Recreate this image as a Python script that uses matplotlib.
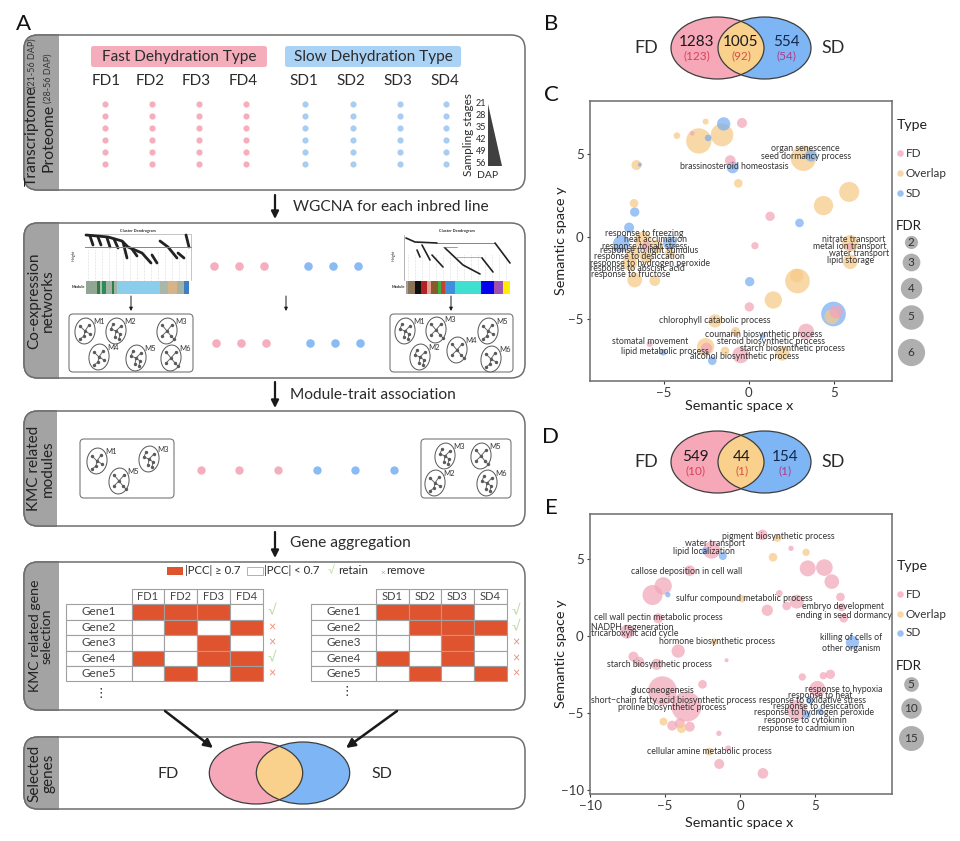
import matplotlib
matplotlib.use('Agg')
import matplotlib.pyplot as plt
import numpy as np
import pandas as pd
from matplotlib.patches import Ellipse, FancyBboxPatch, Rectangle, Polygon

plt.rcParams['font.family'] = ['Lato', 'DejaVu Sans']

# colours
PINK = '#F4AEBD'
BLUE = '#8ABBF2'
ORANGE = '#F9D08C'
GREY_TAB = '#A3A3A3'
RED_CELL = '#E0532F'
TXT = '#2b2b2b'

# ############# panel C data: x, y, FDR ##############
c_fd_x = [-0.39, -3.32, -1.08, 1.26, 0.37, 0.04, 3.38, 5.15, -2.48, -0.47, -5.82, -6.01, 5.97]
c_fd_y = [6.89, 6.26, 4.61, 1.23, -0.55, -4.26, -5.76, -4.55, -6.77, -7.17, -6.51, -0.61, -0.61]
c_fd_v = [1.48, 0.93, 1.58, 1.39, 1.15, 1.39, 2.58, 2.03, 1.68, 2.73, 1.03, 1.48, 1.23]

c_ov_x = [-2.53, -4.22, -2.93, -1.57, -6.60, 3.22, -0.61, 5.91, 4.40, -6.74, 5.97, 5.97, 2.87, 2.83, 1.45,
          -1.98, -0.77, -2.53, -1.39, 1.98, 4.89, -6.70, -5.52, -6.21, -5.42, -6.99, -6.80, -6.01, -4.64]
c_ov_y = [6.97, 6.12, 5.80, 6.16, 4.34, 4.75, 3.23, 2.71, 1.88, 2.02, -0.40, -1.52, -2.69, -2.36, -3.84,
          -5.11, -5.76, -6.67, -6.93, -7.07, -4.85, -2.63, -2.67, -0.20, -0.61, -1.62, -1.01, -1.21, -1.01]
c_ov_v = [1.03, 1.09, 5.3, 4.4, 1.48, 5.3, 1.3, 3.6, 3.4, 1.3, 2.73, 2.3, 5.06, 2.03, 2.89,
          2.03, 1.39, 2.89, 1.3, 2.3, 2.3, 2.3, 1.58, 2.73, 2.03, 2.3, 2.3, 2.03, 1.48]

c_sd_x = [-1.47, -2.38, -6.40, -0.94, 3.67, -6.70, -7.03, 2.99, -7.49, -4.64, 0.06, 4.99, 0.83, -5.03, -2.14]
c_sd_y = [6.83, 5.98, 4.36, 4.20, 4.91, 1.49, 0.55, 0.83, -0.44, -0.40, -2.73, -4.69, -6.02, -7.01, -7.52]
c_sd_v = [2.03, 1.09, 0.89, 1.79, 1.79, 1.39, 1.48, 1.3, 2.73, 2.03, 1.39, 5.06, 1.03, 1.09, 1.3]

c_labels = ['organ senescence', 'seed dormancy process', 'brassinosteroid homeostasis', 'response to freezing',
            'heat acclimation', 'response to salt stress', 'response to light stimulus', 'response to desiccation',
            'response to hydrogen peroxide', 'response to abscisic acid', 'response to fructose', 'nitrate transport',
            'metal ion transport', 'water transport', 'lipid storage', 'chlorophyll catabolic process',
            'coumarin biosynthetic process', 'steroid biosynthetic process', 'starch biosynthetic process',
            'alcohol biosynthetic process', 'stomatal movement', 'lipid metabolic process']
c_label_x = [3.36, 3.38, -0.83, -6.13, -5.48, -6.11, -5.85, -6.40, -5.80, -6.54, -6.94, 6.17, 5.93, 6.52, 5.99,
             -2.02, 0.88, 1.32, 2.55, -0.24, -5.80, -4.93]
c_label_y = [5.35, 4.85, 4.26, 0.18, -0.18, -0.59, -0.87, -1.19, -1.60, -1.94, -2.32, -0.20, -0.61, -1.01, -1.47,
             -5.11, -5.96, -6.38, -6.77, -7.25, -6.38, -6.97]

# ############# panel E data ##############
e_fd_x = [1.47, 3.38, -1.91, -3.36, 4.49, 5.60, 6.09, 2.60, 6.67, -5.13, -5.84, 3.76, 3.09, 1.80, 6.76, -5.47, 6.89,
          -7.53, -4.13, -7.11, -6.73, -5.56, -0.91, 4.13, 5.53, 6.00, -2.51, -5.18, 5.13, -3.58, 3.76, -3.36, -4.53,
          -4.02, -1.42, -0.80, -1.40, 1.51]
e_fd_y = [6.54, 5.67, 5.56, 4.22, 4.37, 4.42, 3.51, 2.75, 2.51, 3.23, 2.64, 2.21, 1.93, 1.65, 1.84, 1.13, 1.13,
          0.26, -1.00, -1.36, -1.69, -1.86, -1.60, -2.68, -2.60, -2.51, -3.16, -3.57, -3.46, -4.61, -4.83, -5.91,
          -5.84, -5.69, -6.34, -7.32, -8.33, -8.94]
e_fd_v = [2.5, 0.43, 7.05, 2.5, 5.97, 6.5, 4.97, 0.81, 1.56, 7.05, 9.48, 4.51, 1.56, 2.86, 1.29, 2.17, 1.56,
          4.51, 4.06, 2.17, 2.17, 2.86, 0.12, 1.04, 1.04, 1.86, 1.56, 19.8, 5.97, 21.7, 9.48, 2.17,
          2.17, 2.17, 0.43, 0.61, 2.17, 2.5]

e_ov_x = [2.47, 4.38, 2.18, 0.11, -1.73, -5.11, -3.91, -2.07]
e_ov_y = [6.32, 5.41, 5.09, 2.40, -0.39, -5.58, -6.02, -7.53]
e_ov_v = [1.04, 1.04, 1.56, 1.04, 0.81, 1.29, 1.86, 1.29]

e_sd_x = [-2.36, -1.16, -4.82, 7.47, 4.42, 5.31, 4.64]
e_sd_y = [5.50, 5.17, 2.66, -0.45, -5.15, -4.94, -4.18]
e_sd_v = [0.81, 1.29, 0.43, 4.06, 1.29, 0.81, 1.29]

e_labels = ['pigment biosynthetic process', 'water transport', 'lipid localization', 'callose deposition in cell wall',
            'sulfur compound metabolic process', 'embryo development', 'ending in seed dormancy',
            'cell wall pectin metabolic process', 'NADPH regeneration', 'tricarboxylic acid cycle',
            'hormone biosynthetic process', 'killing of cells of\nother organism', 'starch biosynthetic process',
            'gluconeogenesis', 'short\u2212chain fatty acid biosynthetic process', 'proline biosynthetic process',
            'response to hypoxia', 'response to heat', 'response to oxidative stress', 'response to desiccation',
            'response to hydrogen peroxide', 'response to cytokinin', 'response to cadmium ion',
            'cellular amine metabolic process']
e_label_x = [2.56, -1.69, -2.40, -3.58, 0.27, 6.87, 6.87, -5.47, -7.18, -7.00, -1.58, 7.40, -5.40, -5.18, -4.44, -4.56,
             6.87, 5.31, 4.82, 5.20, 4.93, 4.31, 4.36, -2.04]
e_label_y = [6.47, 5.97, 5.45, 4.18, 2.42, 1.90, 1.30, 1.17, 0.56, 0.11, -0.35, -0.50, -1.90, -3.53, -4.18, -4.65,
             -3.48, -3.87, -4.22, -4.59, -5.02, -5.52, -6.04, -7.49]

# ############# venn counts ##############
venn_b = ['1283', '1005', '554']
venn_b_sub = ['(123)', '(92)', '(54)']
venn_d = ['549', '44', '154']
venn_d_sub = ['(10)', '(1)', '(1)']

# ############# panel A ##############
fd_lines = ['FD1', 'FD2', 'FD3', 'FD4']
sd_lines = ['SD1', 'SD2', 'SD3', 'SD4']
genes = ['Gene1', 'Gene2', 'Gene3', 'Gene4', 'Gene5']
fd_matrix = [[1, 1, 1, 0], [0, 1, 0, 1], [0, 0, 1, 0], [1, 0, 1, 1], [0, 1, 0, 1]]
sd_matrix = [[1, 1, 1, 0], [0, 1, 1, 1], [0, 0, 1, 0], [1, 0, 1, 0], [0, 1, 0, 1]]
fd_keep = [1, 0, 0, 1, 0]
sd_keep = [1, 1, 0, 0, 0]
stages = [21, 28, 35, 42, 49, 56]

left_bar_w = [11, 3, 2, 4, 6, 2, 3, 43, 8, 9, 7, 5]
left_bar_c = ['#93A593', '#2E7D46', '#A9BFA9', '#2E8B57', '#A3B3A3', '#2E7D46', '#A3B3A3', '#8CCDEB', '#A9B7A9',
              '#D5B48C', '#A3B3A3', '#3F7FBF']
right_bar_w = [2, 7, 6, 6, 4, 7, 3, 4, 10, 26, 13, 9, 7]
right_bar_c = ['#A0A0A0', '#8B7355', '#101010', '#B22222', '#E0A090', '#8B5A2B', '#3CB043', '#C8402F', '#3F8FDF',
               '#40E0D0', '#0000EE', '#A050B0', '#FFEE00']

fig = plt.figure(figsize=(9.6, 8.41), dpi=100)
bg = fig.add_axes([0, 0, 1, 1])
bg.set_xlim(0, 960)
bg.set_ylim(841, 0)
bg.axis('off')


def px_axes(x0, y0, x1, y1):
    return fig.add_axes([x0 / 960, 1 - y1 / 841, (x1 - x0) / 960, (y1 - y0) / 841])


def row_box(y0, y1, title, tab_x=59, size=11):
    box = FancyBboxPatch((24, y0), 501, y1 - y0, boxstyle='round,pad=0,rounding_size=14', fc='white', ec='#6e6e6e',
                         lw=1.1, zorder=1)
    bg.add_patch(box)
    tab = FancyBboxPatch((24, y0), 501, y1 - y0, boxstyle='round,pad=0,rounding_size=14', fc=GREY_TAB, ec='#6e6e6e',
                         lw=1.1, zorder=1.5)
    bg.add_patch(tab)
    tab.set_clip_path(Rectangle((0, 0), tab_x, 841, transform=bg.transData))
    if title:
        bg.text(41, (y0 + y1) / 2, title, rotation=90, ha='center', va='center', ma='center', fontsize=size,
                color='#222222', linespacing=1.0, zorder=3)


def dots(xs, ys, color, size):
    for y in ys:
        bg.scatter(xs, [y] * len(xs), s=size, color=color, lw=0, zorder=3)


def down_arrow(x, y0, y1, lw=1.6, ms=11):
    bg.annotate('', xy=(x, y1), xytext=(x, y0), zorder=4,
                arrowprops=dict(arrowstyle='-|>', color='#1a1a1a', lw=lw, mutation_scale=ms, shrinkA=0, shrinkB=0))


# small network glyph inside an ellipse: node offsets and which node each one hangs from
node_sets = [
    ([(0, 0), (-5, -5), (4, -6), (-1, 5), (-5, 8), (5, 3)], [0, 0, 0, 0, 3, 0]),
    ([(0, 0), (-5, -2), (-3, -7), (5, -5), (4, 3), (-1, 6), (3, 8)], [0, 0, 1, 0, 0, 0, 4]),
    ([(0, 0), (-5, -6), (5, -6), (-5, 5), (4, 5), (7, 8)], [0, 0, 0, 0, 0, 4]),
]


def module(x, y, name, kind=0):
    bg.add_patch(Ellipse((x, y), 20, 26, angle=8, fc='white', ec='#555555', lw=0.7, zorder=3))
    nodes, parents = node_sets[kind % 3]
    for (nx, ny), p in zip(nodes, parents):
        px, py = nodes[p]
        bg.plot([x + px, x + nx], [y + py, y + ny], color='#666666', lw=0.7, zorder=3.1)
    bg.scatter([x + n[0] for n in nodes], [y + n[1] for n in nodes], s=6, color='#5a5a5a', lw=0, zorder=3.2)
    bg.text(x + 14, y - 10, name, fontsize=5.5, color='#333333', ha='center', va='center', zorder=3.3)


def module_box(x0, y0, x1, y1):
    bg.add_patch(FancyBboxPatch((x0, y0), x1 - x0, y1 - y0, boxstyle='round,pad=0,rounding_size=4', fc='white',
                                ec='#777777', lw=0.8, zorder=2))


def venn(cx0, cx1, cy, rx, ry, ax=bg, z=3, lw=0.9):
    left = Ellipse((cx0, cy), 2 * rx, 2 * ry, fc='#F7A8B8', ec='none', zorder=z)
    right = Ellipse((cx1, cy), 2 * rx, 2 * ry, fc='#7DB5F5', ec='none', zorder=z)
    ax.add_patch(left)
    ax.add_patch(right)
    mid = Ellipse((cx0, cy), 2 * rx, 2 * ry, fc=ORANGE, ec='none', zorder=z + .1)
    ax.add_patch(mid)
    mid.set_clip_path(Ellipse((cx1, cy), 2 * rx, 2 * ry, transform=ax.transData))
    for cx in (cx0, cx1):
        outline = Ellipse((cx, cy), 2 * rx, 2 * ry, fc='none', ec='#3d3d3d', lw=lw, zorder=z + .2)
        ax.add_patch(outline)


def gene_table(x_label, x_cols, names, matrix, keep, mark_x):
    y_rows = [604, 619.5, 635, 650.5, 665.5, 681]
    for i, name in enumerate(names):
        bg.add_patch(Rectangle((x_cols[i], 589), x_cols[i + 1] - x_cols[i], 15, fc='white', ec='#a0a0a0', lw=0.8,
                               zorder=2))
        bg.text((x_cols[i] + x_cols[i + 1]) / 2, 596.5, name, fontsize=8, color='#444444', ha='center', va='center',
                zorder=3)
    for r, g in enumerate(genes):
        y0, y1 = y_rows[r], y_rows[r + 1]
        bg.add_patch(Rectangle((x_label, y0), x_cols[0] - x_label, y1 - y0, fc='white', ec='#a0a0a0', lw=0.8, zorder=2))
        bg.text((x_label + x_cols[0]) / 2, (y0 + y1) / 2, g, fontsize=8.5, color='#444444', ha='center', va='center',
                zorder=3)
        for c in range(4):
            bg.add_patch(Rectangle((x_cols[c], y0), x_cols[c + 1] - x_cols[c], y1 - y0,
                                   fc=RED_CELL if matrix[r][c] else 'white', ec='#a0a0a0', lw=0.8, zorder=2))
        if keep[r]:
            bg.text(mark_x, (y0 + y1) / 2 - 1, '\u221a', fontsize=10, color='#BFDDA8', ha='center', va='center', zorder=3)
        else:
            bg.text(mark_x, (y0 + y1) / 2, '\u00d7', fontsize=9, color='#E9907A', ha='center', va='center', zorder=3)


# ################### panel A ###################
bg.text(23, 24, 'A', fontsize=16, color='#111111', ha='center', va='center')

# row 1: sampling
row_box(35, 190, None)
bg.text(32, 136, 'Transcriptome', rotation=90, fontsize=11.3, ha='center', va='center', color='#222222', zorder=3)
bg.text(32, 63, '(21-56 DAP)', rotation=90, fontsize=6.5, ha='center', va='center', color='#333333', zorder=3)
bg.text(48, 138, 'Proteome', rotation=90, fontsize=11.3, ha='center', va='center', color='#222222', zorder=3)
bg.text(48, 78, '(28-56 DAP)', rotation=90, fontsize=6.5, ha='center', va='center', color='#333333', zorder=3)
bg.add_patch(FancyBboxPatch((91, 46), 176, 21, boxstyle='round,pad=0,rounding_size=2.5', fc='#F4AEBB', ec='none', zorder=2))
bg.add_patch(FancyBboxPatch((285, 46), 176, 21, boxstyle='round,pad=0,rounding_size=2.5', fc='#A9D2F5', ec='none', zorder=2))
bg.text(179, 56.5, 'Fast Dehydration Type', fontsize=11.1, color=TXT, ha='center', va='center', zorder=3)
bg.text(373, 56.5, 'Slow Dehydration Type', fontsize=11.1, color=TXT, ha='center', va='center', zorder=3)
for xt, name in zip([106, 150, 196, 243], fd_lines):
    bg.text(xt, 81, name, fontsize=11, color=TXT, ha='center', va='center', zorder=3)
for xt, name in zip([304, 351, 398, 445], sd_lines):
    bg.text(xt, 81, name, fontsize=11, color=TXT, ha='center', va='center', zorder=3)
stage_y = [104, 116, 128, 140, 152, 164]
dots([105, 152, 199, 246], stage_y, PINK, 20)
dots([305, 353, 400, 446], stage_y, '#A9CDEF', 20)
bg.text(468, 135, 'Sampling stages', rotation=90, fontsize=8.5, color=TXT, ha='center', va='center', zorder=3)
for yt, st in zip(stage_y, stages):
    bg.text(481, yt - 1, str(st), fontsize=6.5, color=TXT, ha='center', va='center', zorder=3)
bg.add_patch(Polygon([(488, 104), (488, 166), (502, 166)], fc='#404040', ec='none', zorder=3))
bg.text(488, 175, 'DAP', fontsize=7.5, color=TXT, ha='center', va='center', zorder=3)

down_arrow(275, 195, 219)
bg.text(293, 207, 'WGCNA for each inbred line', fontsize=11.2, color=TXT, va='center')

# row 2: co-expression networks
row_box(223, 378, 'Co-expression\nnetworks')
x = 86
for w, c in zip(left_bar_w, left_bar_c):
    bg.add_patch(Rectangle((x, 281), w, 13, fc=c, ec='none', zorder=2))
    x += w
x = 406
for w, c in zip(right_bar_w, right_bar_c):
    bg.add_patch(Rectangle((x, 281), w, 13, fc=c, ec='none', zorder=2))
    x += w
for xv in range(88, 190, 7):
    bg.plot([xv, xv], [250, 280], color='#bdbdbd', lw=0.4, ls=':', zorder=2)
for xv in range(408, 510, 7):
    bg.plot([xv, xv], [255, 280], color='#bdbdbd', lw=0.4, ls=':', zorder=2)
left_traces = [[(86, 235), (108, 237), (122, 241), (128, 247), (142, 253), (151, 263)],
               [(152, 255), (157, 263)], [(160, 241), (168, 247), (177, 258)], [(178, 253), (184, 258)],
               [(186, 235), (189, 247)], [(90, 236), (93, 245)], [(98, 237), (101, 245)], [(107, 238), (110, 247)],
               [(123, 242), (127, 258)], [(132, 249), (137, 256)], [(114, 239), (118, 248)]]
right_traces = [[(406, 238), (415, 242), (437, 243)], [(445, 248), (463, 265), (480, 274)],
                [(482, 258), (493, 272)], [(495, 243), (510, 263)], [(417, 250), (420, 257)],
                [(422, 245), (430, 260)], [(432, 255), (443, 267)]]
for tr in left_traces:
    arr = np.array(tr)
    bg.plot(arr[:, 0], arr[:, 1], color='#222222', lw=2.0, solid_capstyle='round', zorder=2.2)
for tr in right_traces:
    arr = np.array(tr)
    bg.plot(arr[:, 0], arr[:, 1], color='#222222', lw=1.2, solid_capstyle='round', zorder=2.2)
bg.plot([85, 191], [247, 247], color='#E06060', lw=0.7, zorder=2.3)
bg.plot([86, 191, 191], [234, 234, 280], color='#999999', lw=0.4, zorder=2)
bg.plot([404, 404], [235, 280], color='#777777', lw=0.4, zorder=2)
bg.plot([437, 495], [243, 243], color='#555555', lw=0.5, zorder=2)
bg.plot([443, 457], [247, 247], color='#555555', lw=0.4, zorder=2)
bg.plot([457, 482], [257, 257], color='#777777', lw=0.4, zorder=2)
bg.text(138, 231, 'Cluster Dendrogram', fontsize=2.8, color=TXT, ha='center', va='center', weight='bold', zorder=3)
bg.text(457, 231, 'Cluster Dendrogram', fontsize=2.8, color=TXT, ha='center', va='center', weight='bold', zorder=3)
bg.text(74, 255, 'Height', fontsize=2.8, color=TXT, ha='center', va='center', rotation=90, zorder=3)
bg.text(394, 255, 'Height', fontsize=2.8, color=TXT, ha='center', va='center', rotation=90, zorder=3)
bg.text(78, 287, 'Module', fontsize=2.8, color=TXT, ha='center', va='center', weight='bold', zorder=3)
bg.text(398, 287, 'Module', fontsize=2.8, color=TXT, ha='center', va='center', weight='bold', zorder=3)

dots([214, 239, 264], [266], PINK, 38)
dots([308, 333, 358], [266], BLUE, 38)
dots([216, 241, 266], [343], PINK, 38)
dots([310, 335, 360], [343], BLUE, 38)
for xa in [131, 286, 451]:
    down_arrow(xa, 296, 311, lw=0.7, ms=5)

module_box(69, 314, 193, 372)
module_box(390, 314, 513, 372)
for i, (mx, my, mn) in enumerate([(85, 331, 'M1'), (116, 331, 'M2'), (167, 331, 'M3'), (99, 357, 'M4'),
                                  (136, 358, 'M5'), (171, 358, 'M6')]):
    module(mx, my, mn, i)
for i, (mx, my, mn) in enumerate([(405, 331, 'M1'), (436, 330, 'M3'), (488, 331, 'M5'), (420, 357, 'M2'),
                                  (457, 350, 'M4'), (491, 359, 'M6')]):
    module(mx, my, mn, i + 1)

down_arrow(275, 382, 408)
bg.text(290, 395, 'Module-trait association', fontsize=11.2, color=TXT, va='center')

# row 3: KMC related modules
row_box(411, 526, 'KMC related\nmodules', tab_x=57)
module_box(80, 439, 174, 498)
module_box(421, 439, 511, 498)
for i, (mx, my, mn) in enumerate([(97, 461, 'M1'), (149, 459, 'M3'), (119, 481, 'M5')]):
    module(mx, my, mn, i)
for i, (mx, my, mn) in enumerate([(445, 456, 'M3'), (481, 456, 'M5'), (435, 483, 'M2'), (487, 483, 'M6')]):
    module(mx, my, mn, i + 1)
dots([201, 239, 278], [470], PINK, 36)
dots([317, 355, 394], [470], BLUE, 36)

down_arrow(275, 532, 558)
bg.text(290, 543, 'Gene aggregation', fontsize=11.2, color=TXT, va='center')

# row 4: gene selection
row_box(562, 710, 'KMC related gene\nselection', size=10.2)
bg.add_patch(Rectangle((167, 567), 16, 8, fc=RED_CELL, ec='none', zorder=3))
bg.add_patch(Rectangle((247, 567), 16, 8, fc='white', ec='#b0b0b0', lw=0.7, zorder=3))
bg.text(185, 571, '|PCC| \u2265 0.7', fontsize=8.2, color=TXT, va='center', zorder=3)
bg.text(264, 571, '|PCC| < 0.7', fontsize=8.2, color=TXT, va='center', zorder=3)
bg.text(331, 571, '\u221a', fontsize=8, color='#BFDDA8', ha='center', va='center', zorder=3)
bg.text(338, 571, 'retain', fontsize=8.4, color=TXT, va='center', zorder=3)
bg.text(383, 572, '\u00d7', fontsize=6, color='#E9907A', ha='center', va='center', zorder=3)
bg.text(386, 571, 'remove', fontsize=8.4, color=TXT, va='center', zorder=3)
gene_table(66, [131.5, 164, 197, 230, 262.5], fd_lines, fd_matrix, fd_keep, 272)
gene_table(311, [376, 408.5, 441, 474, 506.5], sd_lines, sd_matrix, sd_keep, 516)
bg.text(101, 693, '\u22ee', fontsize=9, color=TXT, ha='center', va='center', zorder=3)
bg.text(347, 691, '\u22ee', fontsize=9, color=TXT, ha='center', va='center', zorder=3)

# row 5: selected genes
row_box(737, 809, 'Selected\ngenes')
venn(256, 303, 773, 46.7, 31)
bg.text(168, 774, 'FD', fontsize=11.5, color=TXT, ha='center', va='center', zorder=4)
bg.text(382, 774, 'SD', fontsize=11.5, color=TXT, ha='center', va='center', zorder=4)
for start, end in [((165, 711), (213, 748)), ((397, 711), (346, 748))]:
    bg.annotate('', xy=end, xytext=start, zorder=6,
                arrowprops=dict(arrowstyle='-|>', color='#1a1a1a', lw=1.8, mutation_scale=13, shrinkA=0, shrinkB=0))


# ################### panels B, D ###################
sub_colors = ['#D8405A', '#D8504A', '#B03C8C']
count_colors = ['#1a1a1a', '#1a1a1a', '#12284a']


def venn_panel(letter, y_letter, cy, counts, subs, xs, y_top, y_sub):
    bg.text(551, y_letter, letter, fontsize=16, color='#111111', ha='center', va='center')
    venn(717.5, 764.5, cy, 46.5, 31)
    bg.text(646, cy, 'FD', fontsize=13, color=TXT, ha='center', va='center')
    bg.text(833, cy, 'SD', fontsize=13, color=TXT, ha='center', va='center')
    for i, (xt, c, s) in enumerate(zip(xs, counts, subs)):
        bg.text(xt, cy + y_top, c, fontsize=11, color=count_colors[i], ha='center', va='center', zorder=5)
        bg.text(xt, cy + y_sub, s, fontsize=8.5, color=sub_colors[i], ha='center', va='center', zorder=5)


venn_panel('B', 24, 48, venn_b, venn_b_sub, [697, 741, 786], -6, 8)
venn_panel('D', 437, 462, venn_d, venn_d_sub, [695, 742, 785], -5, 9)
bg.text(551, 95, 'C', fontsize=16, color='#111111', ha='center', va='center')
bg.text(551, 508, 'E', fontsize=16, color='#111111', ha='center', va='center')


# ################### bubble plots ###################
def c_size(v):
    return 0.518 * (142 * np.asarray(v, dtype=float) - 110)


def e_size(v):
    return 0.518 * (41 * np.asarray(v, dtype=float) + 11)


def bubble_frame(fd, ov, sd):
    frames = []
    for kind, (xs, ys, vs) in zip(['FD', 'Overlap', 'SD'], [fd, ov, sd]):
        frames.append(pd.DataFrame({'x': xs, 'y': ys, 'v': vs, 'type': kind}))
    return pd.concat(frames).sort_values('v', ascending=False)


type_colors = {'FD': '#F2A5B8', 'Overlap': '#F8C987', 'SD': '#77AEF0'}


def bubble_plot(box, xlim, ylim, xticks, yticks, frame, size_fn, labels, lx, ly, xlab_off):
    ax = px_axes(*box)
    ax.set_xlim(*xlim)
    ax.set_ylim(*ylim)
    ax.scatter(frame.x, frame.y, s=size_fn(frame.v), c=[type_colors[t] for t in frame.type], alpha=0.72, lw=0)
    for t, xt, yt in zip(labels, lx, ly):
        ax.text(xt, yt, t, fontsize=6.3, color='#333333', ha='center', va='center', linespacing=1.3)
    ax.set_xticks(xticks)
    ax.set_yticks(yticks)
    ax.set_xticklabels([str(t).replace('-', '\u2212') for t in xticks])
    ax.set_yticklabels([str(t).replace('-', '\u2212') for t in yticks])
    ax.tick_params(labelsize=9.5, colors='#3a3a3a', length=2.5, width=0.8, pad=2)
    for s in ax.spines.values():
        s.set_color('#6b6b6b')
        s.set_linewidth(1.1)
    ax.set_xlabel('Semantic space x', fontsize=10.4, color='#222222')
    ax.set_ylabel('Semantic space y', fontsize=10.4, color='#222222')
    ax.yaxis.set_label_coords(-23 / 302, 0.5)
    ax.xaxis.set_label_coords(0.495, -xlab_off / (box[3] - box[1]))
    return ax


c_frame = bubble_frame((c_fd_x, c_fd_y, c_fd_v), (c_ov_x, c_ov_y, c_ov_v), (c_sd_x, c_sd_y, c_sd_v))
e_frame = bubble_frame((e_fd_x, e_fd_y, e_fd_v), (e_ov_x, e_ov_y, e_ov_v), (e_sd_x, e_sd_y, e_sd_v))
bubble_plot((590, 101, 892, 381), (-9.33, 8.43), (-8.75, 8.22), [-5, 0, 5], [-5, 0, 5], c_frame, c_size,
            c_labels, c_label_x, c_label_y, 19)
bubble_plot((590, 514.3, 892, 794), (-10, 10.1), (-10.28, 7.88), [-10, -5, 0, 5], [-10, -5, 0, 5], e_frame, e_size,
            e_labels, e_label_x, e_label_y, 23)


def side_legend(y_type, y_dots, y_fdr, y_circles, values, size_fn):
    bg.text(912, y_type, 'Type', fontsize=10.2, color='#222222', ha='center', va='center')
    for yd, kind in zip(y_dots, type_colors):
        bg.scatter([900], [yd], s=22, color=type_colors[kind], alpha=0.75, lw=0)
        bg.text(906, yd, kind, fontsize=8.4, color='#333333', va='center')
    bg.text(908.5, y_fdr, 'FDR', fontsize=9.5, color='#222222', ha='center', va='center')
    for yc, val in zip(y_circles, values):
        bg.scatter([911], [yc], s=size_fn(val), color='#858585', alpha=0.65, lw=0)
        bg.text(911, yc, str(val), fontsize=8.5, color='#333333', ha='center', va='center')


side_legend(125, [153, 173, 193], 226, [242, 262, 288, 317, 352], [2, 3, 4, 5, 6], c_size)
side_legend(566, [594, 614, 633], 666, [684, 708, 738], [5, 10, 15], e_size)

fig.savefig('out.png', dpi=100)
